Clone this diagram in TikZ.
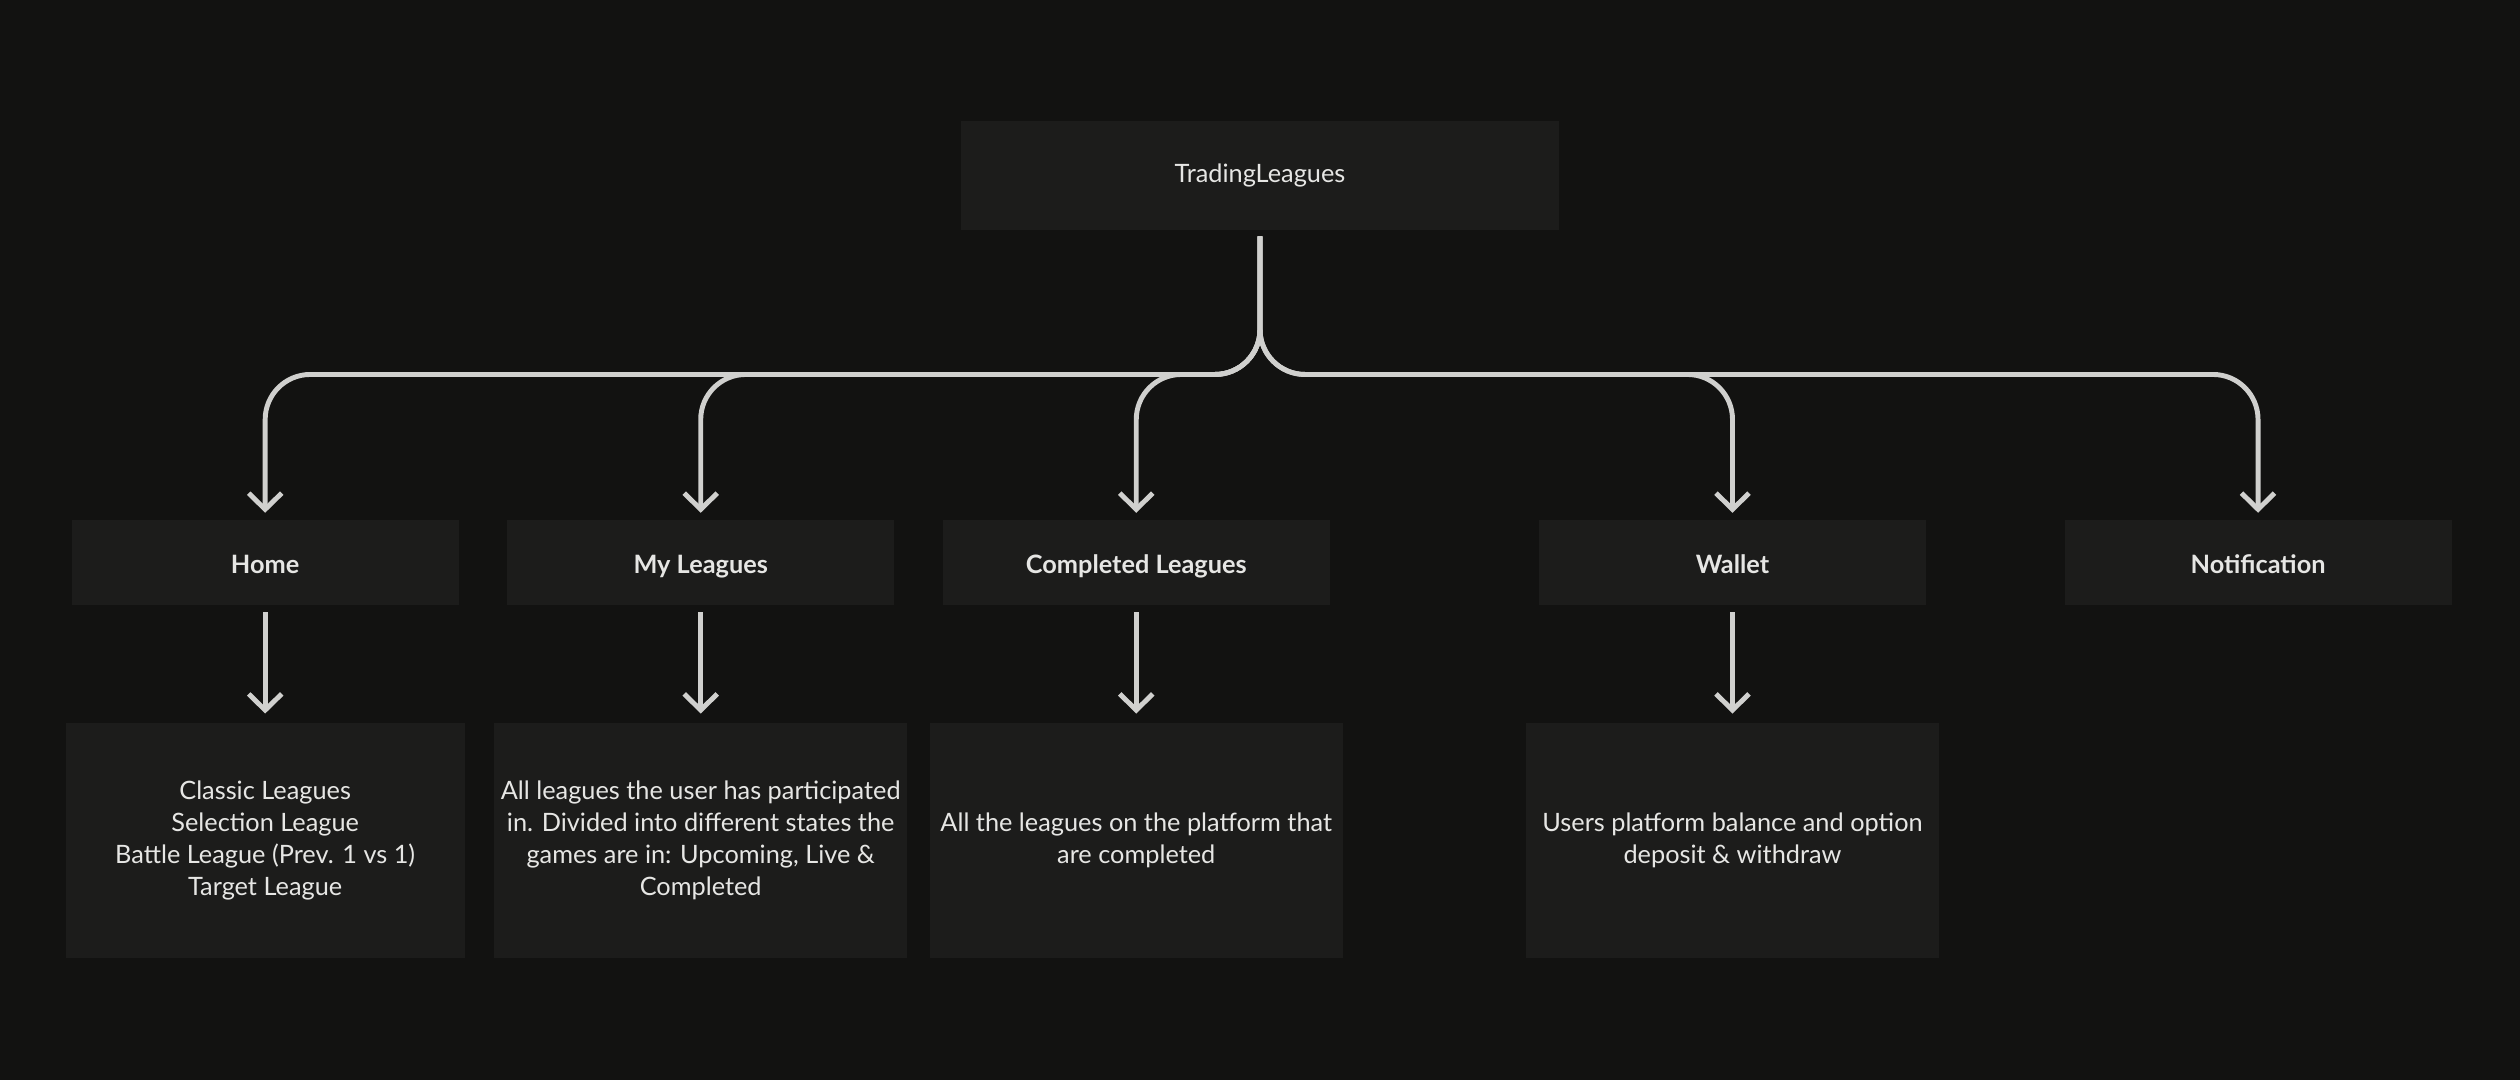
\documentclass[tikz,border=0pt]{standalone}
\usepackage{fontspec}
\setmainfont{Lato}
\usetikzlibrary{arrows.meta}
\definecolor{bgc}{HTML}{121211}
\definecolor{boxc}{HTML}{1C1C1B}
\definecolor{linec}{HTML}{D0D0CE}
\definecolor{textc}{HTML}{E6E6E4}
\tikzset{
  box/.style={fill=boxc, draw=none, text=textc, align=center, inner sep=0pt,
    font=\fontsize{7.2}{9.1}\selectfont},
  head/.style={box, minimum width=3.87cm, minimum height=0.84cm,
    text height=1.5ex, text depth=0.25ex,
    font=\fontsize{7.2}{9.1}\selectfont\bfseries},
  info/.style={box, minimum height=2.35cm},
  link/.style={draw=linec, line width=1.4pt, rounded corners=0.45cm,
    -{Straight Barb[length=4.6pt,width=9.4pt,line width=1.4pt]}}
}
\begin{document}
\begin{tikzpicture}[x=0.01607cm, y=-0.01607cm]
\fill[bgc] (0,0) rectangle (1568,672);
\useasboundingbox (0,0) rectangle (1568,672);
\node[box, minimum width=5.98cm, minimum height=1.09cm] (top) at (784,109) {TradingLeagues};
% first row
\node[head] (home) at (165,350) {Home};
\node[head] (myl) at (436,350) {My Leagues};
\node[head] (comp) at (707,350) {Completed Leagues};
\node[head] (wal) at (1078,350) {Wallet};
\node[head] (notif) at (1405,350) {Notification};
% second row
\node[info, minimum width=3.99cm] (homeI) at (165,523) {Classic Leagues\\Selection League\\Battle League (Prev. 1 vs 1)\\Target League};
\node[info, minimum width=4.13cm] (mylI) at (436,523) {All leagues the user has participated\\in. Divided into different states the\\games are in: Upcoming, Live \&\\Completed};
\node[info, minimum width=4.13cm] (compI) at (707,523) {All the leagues on the platform that\\are completed};
\node[info, minimum width=4.13cm] (walI) at (1078,523) {Users platform balance and option\\deposit \& withdraw};
% connectors
\coordinate (split) at (784,147);
\foreach \n/\x in {home/165,myl/436,comp/707,wal/1078,notif/1405}
  \draw[link, shorten >=2pt] (split) |- (\x,233) -- (\n.north);
\foreach \n/\m in {home/homeI,myl/mylI,comp/compI,wal/walI}
  \draw[link, shorten <=2pt, shorten >=2.5pt] (\n.south) -- (\m.north);
\end{tikzpicture}
\end{document}
